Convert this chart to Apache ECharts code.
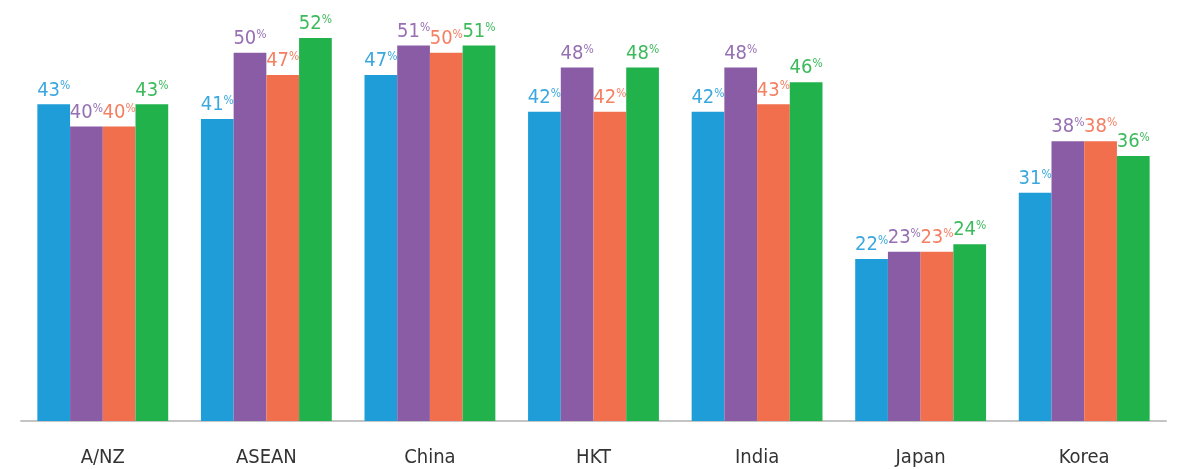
<!DOCTYPE html>
<html><head><meta charset="utf-8">
<script src="https://cdn.jsdelivr.net/npm/echarts@6/dist/echarts.min.js"></script>
<style>html,body{margin:0;padding:0;background:#fff}#c{width:1182px;height:469px}</style>
</head><body><div id="c"></div>
<script>
const categories = ['A/NZ','ASEAN','China','HKT','India','Japan','Korea'];
const seriesBlue   = [43,41,47,42,42,22,31];
const seriesPurple = [40,50,51,48,48,23,38];
const seriesOrange = [40,47,50,42,43,23,38];
const seriesGreen  = [43,52,51,48,46,24,36];
const colors = ['#1f9dd8','#8a5ca6','#f26f4e','#22b24c'];
const labelColors = ['#3aa8de','#9670b3','#f47f62','#3cba5c'];
const FONT = "'Liberation Sans Narrow','DejaVu Sans Condensed','Roboto',sans-serif";
const chart = echarts.init(document.getElementById('c'));
function mk(name, data, i){
  return {
    name, type:'bar', data, barGap:'0%', barCategoryGap:'20%',
    itemStyle:{color:colors[i], borderWidth:0},
    label:{show:true, position:'top', distance:4,
      formatter: p => '{n|' + p.value + '}{p|%}',
      rich:{
        n:{fontFamily:FONT, fontSize:20, fontWeight:300, color:labelColors[i]},
        p:{fontFamily:FONT, fontSize:12, fontWeight:300, color:labelColors[i], verticalAlign:'top', padding:[0,0,4,0]}
      }
    }
  };
}
chart.setOption({
  animation:false,
  grid:{left:21, right:16, top:16, bottom:48},
  xAxis:{type:'category', data:categories,
    axisLine:{lineStyle:{color:'#c4c4c4', width:2}},
    axisTick:{show:false},
    axisLabel:{fontFamily:FONT, fontSize:20, color:'#333', margin:27}},
  yAxis:{type:'value', min:0, max:55, show:false, splitLine:{show:false}},
  series:[mk('s1',seriesBlue,0),mk('s2',seriesPurple,1),mk('s3',seriesOrange,2),mk('s4',seriesGreen,3)]
});
</script></body></html>
